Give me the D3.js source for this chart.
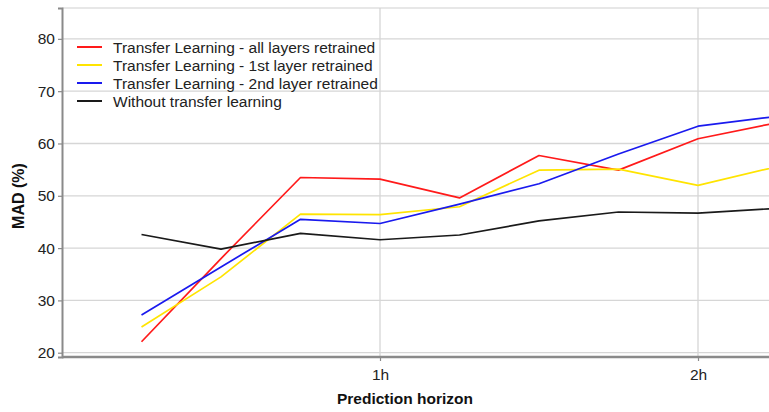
<!DOCTYPE html>
<html>
<head>
<meta charset="utf-8">
<script src="https://cdn.jsdelivr.net/npm/d3@7"></script>
<style>
  html, body { margin: 0; padding: 0; background: #fff; }
  svg { display: block; font-family: "Liberation Sans", Arial, sans-serif; }
</style>
</head>
<body>
<svg id="chart" width="769" height="412"></svg>
<script>
// Prediction horizon (hours)
const horizons = [0.25, 0.5, 0.75, 1.0, 1.25, 1.5, 1.75, 2.0, 2.25];
const seriesNames = [
  "Transfer Learning - all layers retrained",
  "Transfer Learning - 1st layer retrained",
  "Transfer Learning - 2nd layer retrained",
  "Without transfer learning"
];
const seriesColors = ["#ff1a1a", "#ffe400", "#1a1aee", "#1a1a1a"];
const allLayers = [22.1, 38.0, 53.5, 53.2, 49.6, 57.7, 54.9, 60.9, 64.0];
const firstLayer = [24.9, 34.5, 46.5, 46.4, 47.9, 54.9, 55.1, 52.0, 55.6];
const secondLayer = [27.2, 36.4, 45.5, 44.7, 48.4, 52.3, 58.0, 63.3, 65.2];
const withoutTL = [42.6, 39.8, 42.8, 41.6, 42.5, 45.2, 46.9, 46.7, 47.6];
const yTicks = [20, 30, 40, 50, 60, 70, 80];
const xTicks = [1, 2];
const xTickLabels = ["1h", "2h"];

const allSeries = [allLayers, firstLayer, secondLayer, withoutTL];

const svg = d3.select("#chart");
const W = 769, H = 412;
const mLeft = 62, mTop = 8, mBottom = 357;

const x = d3.scaleLinear().domain([0, 2.25]).range([mLeft, 777.5]);
const y = d3.scaleLinear().domain([19.18, 85.9]).range([mBottom, mTop]);

// clip
svg.append("defs").append("clipPath").attr("id", "plotclip")
  .append("rect").attr("x", mLeft).attr("y", mTop).attr("width", W - mLeft).attr("height", mBottom - mTop);

// horizontal gridlines
svg.append("g").selectAll("line").data(yTicks).join("line")
  .attr("x1", mLeft).attr("x2", W)
  .attr("y1", d => y(d)).attr("y2", d => y(d))
  .attr("stroke", "#d6d6d6").attr("stroke-width", 1.3);

// vertical gridlines
svg.append("g").selectAll("line").data(xTicks).join("line")
  .attr("x1", d => x(d)).attr("x2", d => x(d))
  .attr("y1", mTop).attr("y2", mBottom)
  .attr("stroke", "#d6d6d6").attr("stroke-width", 1.3);

// top frame
svg.append("line").attr("x1", mLeft).attr("x2", W).attr("y1", mTop).attr("y2", mTop)
  .attr("stroke", "#cfcfcf").attr("stroke-width", 1.2);

// Y axis
const yAxis = d3.axisLeft(y).tickValues(yTicks).tickSize(4).tickPadding(3).tickFormat(d3.format("d"));
const gy = svg.append("g").attr("transform", `translate(${mLeft},0)`).call(yAxis);
gy.select(".domain").attr("stroke", "#8a8a8a").attr("stroke-width", 2);
gy.selectAll(".tick line").attr("stroke", "#8a8a8a").attr("stroke-width", 1.2);
gy.selectAll(".tick text").attr("font-size", 15.5).attr("fill", "#222").attr("font-family", "Liberation Sans, Arial, sans-serif");

// X axis
const xAxis = d3.axisBottom(x).tickValues(xTicks).tickSize(4).tickPadding(8)
  .tickFormat((d, i) => xTickLabels[i]);
const gx = svg.append("g").attr("transform", `translate(0,${mBottom})`).call(xAxis);
gx.select(".domain").attr("d", `M${mLeft},0H${W}`).attr("stroke", "#8a8a8a").attr("stroke-width", 2.5);
gx.selectAll(".tick line").attr("stroke", "#8a8a8a").attr("stroke-width", 1.2);
gx.selectAll(".tick text").attr("font-size", 15.5).attr("fill", "#222").attr("font-family", "Liberation Sans, Arial, sans-serif");

// lines
const line = d3.line().x((d, i) => x(horizons[i])).y(d => y(d));
svg.append("g").attr("clip-path", "url(#plotclip)")
  .selectAll("path").data(allSeries).join("path")
  .attr("d", d => line(d))
  .attr("fill", "none")
  .attr("stroke", (d, i) => seriesColors[i])
  .attr("stroke-width", 1.7)
  .attr("stroke-linejoin", "round");

// legend
const lg = svg.append("g");
seriesNames.forEach((name, i) => {
  const yy = 47 + i * 18;
  lg.append("line").attr("x1", 77).attr("x2", 102).attr("y1", yy).attr("y2", yy)
    .attr("stroke", seriesColors[i]).attr("stroke-width", 2);
  lg.append("text").attr("x", 113).attr("y", yy + 5.5)
    .attr("font-size", 15.5).attr("fill", "#222").text(name);
});

// axis titles
svg.append("text").attr("transform", "translate(24,196) rotate(-90)")
  .attr("text-anchor", "middle").attr("font-size", 16).attr("font-weight", "bold")
  .attr("fill", "#111").text("MAD (%)");
svg.append("text").attr("x", 405).attr("y", 404)
  .attr("text-anchor", "middle").attr("font-size", 15.5).attr("font-weight", "bold")
  .attr("fill", "#111").text("Prediction horizon");
</script>
</body>
</html>
